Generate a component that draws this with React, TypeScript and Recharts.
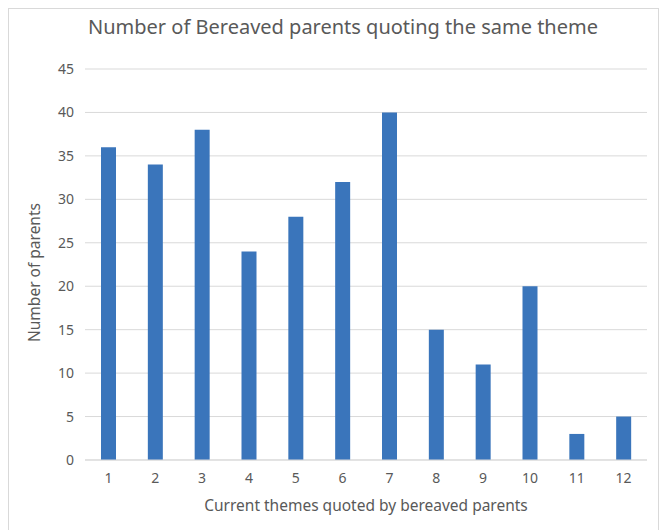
import { BarChart, Bar, XAxis, YAxis, CartesianGrid } from 'recharts';

const themes = ['1', '2', '3', '4', '5', '6', '7', '8', '9', '10', '11', '12'];
const parents = [36, 34, 38, 24, 28, 32, 40, 15, 11, 20, 3, 5];
const yTicks = [0, 5, 10, 15, 20, 25, 30, 35, 40, 45];

const data = themes.map((t, i) => ({ theme: t, parents: parents[i] }));

const FONT = '"Noto Sans", sans-serif';
const GREY = '#595959';

// y axis title, sitting a little below the plot's middle like in Excel
const YTitle = (props: any) => {
  const vb = props.viewBox;
  const x = vb.x + 34;
  const y = vb.y + vb.height / 2 + 8;
  return (
    <text
      x={x}
      y={y}
      transform={`rotate(-90 ${x} ${y})`}
      textAnchor="middle"
      dominantBaseline="central"
      fill={GREY}
      fontSize={15.5}
      fontFamily={FONT}
    >
      Number of parents
    </text>
  );
};

export default function App() {
  return (
    <div style={{ position: 'absolute', left: 0, top: 0, width: 660, height: 530, background: '#fff' }}>
      <div
        style={{
          position: 'absolute',
          left: 8,
          top: 8,
          width: 649,
          height: 530,
          borderTop: '1px solid #d9d9d9',
          borderLeft: '1px solid #d9d9d9',
          borderRight: '1px solid #d9d9d9',
        }}
      />
      <div
        style={{
          position: 'absolute',
          left: 0,
          top: 13,
          width: 686,
          textAlign: 'center',
          fontFamily: FONT,
          fontSize: 20,
          color: GREY,
        }}
      >
        Number of Bereaved parents quoting the same theme
      </div>
      <div style={{ position: 'absolute', left: 0, top: 0 }}>
        <BarChart
          width={660}
          height={530}
          data={data}
          margin={{ top: 69, right: 13, bottom: 0, left: 0 }}
          barCategoryGap={0}
        >
          <CartesianGrid vertical={false} stroke="#d9d9d9" />
          <XAxis
            dataKey="theme"
            tickLine={false}
            axisLine={{ stroke: '#d9d9d9' }}
            tick={{ fill: GREY, fontSize: 14, fontFamily: FONT }}
            tickMargin={7}
            height={70}
            label={{
              value: 'Current themes quoted by bereaved parents',
              position: 'insideBottom',
              offset: 19,
              fill: GREY,
              fontSize: 15.5,
              fontFamily: FONT,
            }}
          />
          <YAxis
            domain={[0, 45]}
            ticks={yTicks}
            tickLine={false}
            axisLine={false}
            width={85}
            tickMargin={5}
            tick={{ fill: GREY, fontSize: 14, fontFamily: FONT }}
            label={{ content: YTitle }}
          />
          <Bar dataKey="parents" fill="#3a75bb" barSize={15} isAnimationActive={false} />
        </BarChart>
      </div>
    </div>
  );
}
